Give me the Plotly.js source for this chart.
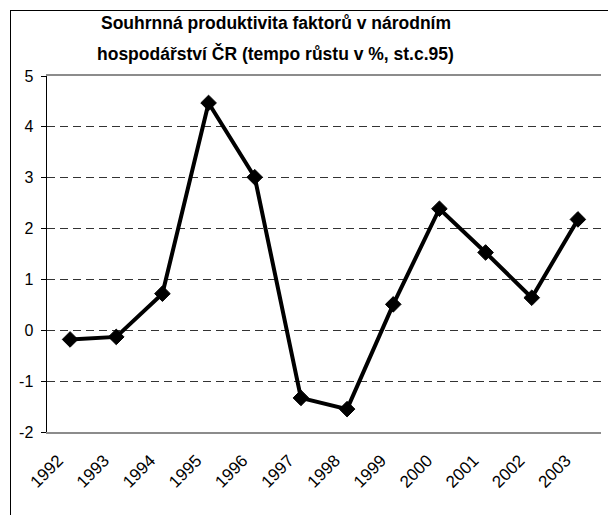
<!DOCTYPE html>
<html>
<head>
<meta charset="utf-8">
<script src="https://cdn.plot.ly/plotly-3.0.1.min.js"></script>
<style>
  html, body { margin: 0; padding: 0; background: #fff; overflow: hidden; }
  #frame { position: absolute; left: 10px; top: 10px; width: 700px; height: 600px;
           border-left: 1px solid #000; border-top: 1px solid #000; box-sizing: border-box; }
  #chart { position: absolute; left: 0; top: 0; width: 608px; height: 515px; }
</style>
</head>
<body>
<div id="frame"></div>
<div id="chart"></div>
<script>
const years = ["1992","1993","1994","1995","1996","1997","1998","1999","2000","2001","2002","2003"];
const growth = [-0.18, -0.13, 0.72, 4.47, 3.01, -1.33, -1.55, 0.51, 2.39, 1.53, 0.64, 2.18];
const yTicks = [-2, -1, 0, 1, 2, 3, 4, 5];
const titleLines = ["Souhrnná produktivita faktorů v národním", "hospodářství ČR (tempo růstu v %, st.c.95)"];

const font = "Arial, 'Liberation Sans', sans-serif";

const traces = [{
  x: years, y: growth, type: "scatter", mode: "lines+markers",
  line: { color: "#000", width: 4 },
  marker: { symbol: "diamond", size: 12, color: "#000", line: { color: "#000", width: 1 } },
  cliponaxis: false, hoverinfo: "skip", xaxis: "x", yaxis: "y"
}];

const titleY = [1.149, 1.062];
const annotations = titleLines.map((t, i) => ({
  text: "<b>" + t + "</b>", xref: "paper", yref: "paper", x: 0.413, y: titleY[i],
  xanchor: "center", yanchor: "middle", showarrow: false,
  font: { family: font, size: 17.5, color: "#000" }
}));

const layout = {
  width: 608, height: 515,
  margin: { l: 47, r: 7, t: 76, b: 83 },
  paper_bgcolor: "rgba(0,0,0,0)", plot_bgcolor: "rgba(0,0,0,0)",
  showlegend: false,
  font: { family: font, color: "#000", size: 16 },
  annotations: annotations,
  xaxis: {
    type: "category", range: [-0.5, 11.5], categoryarray: years,
    showline: true, linecolor: "#8c8c8c", linewidth: 2, mirror: true,
    showgrid: false, zeroline: false, ticks: "", tickangle: -45,
    ticklabelstandoff: 10, ticklabelshift: -12,
    tickfont: { family: font, size: 17, color: "#000" }
  },
  xaxis2: {
    type: "category", range: [-0.5, 11.5], categoryarray: years, overlaying: "x",
    anchor: "free", position: 2/7, showline: true, linecolor: "#000", linewidth: 1.5,
    ticks: "outside", tickson: "boundaries", ticklen: 5, tickcolor: "#000", tickwidth: 1,
    showticklabels: false, showgrid: false, zeroline: false
  },
  yaxis: {
    range: [-2, 5], tickvals: yTicks, ticktext: yTicks.map(String),
    showline: true, linecolor: "#000", linewidth: 1.5,
    ticks: "outside", ticklen: 5, tickcolor: "#000",
    ticklabelstandoff: 4,
    showgrid: true, gridcolor: "#333", gridwidth: 1, griddash: "8px,5px",
    zeroline: false, tickfont: { family: font, size: 16, color: "#000" }
  },
  yaxis2: {
    range: [-2, 5], overlaying: "y", side: "right", showline: true, linecolor: "#8c8c8c",
    linewidth: 2, showticklabels: false, ticks: "", showgrid: false, zeroline: false
  }
};

Plotly.newPlot("chart", traces, layout, { displayModeBar: false, staticPlot: true });
</script>
</body>
</html>
